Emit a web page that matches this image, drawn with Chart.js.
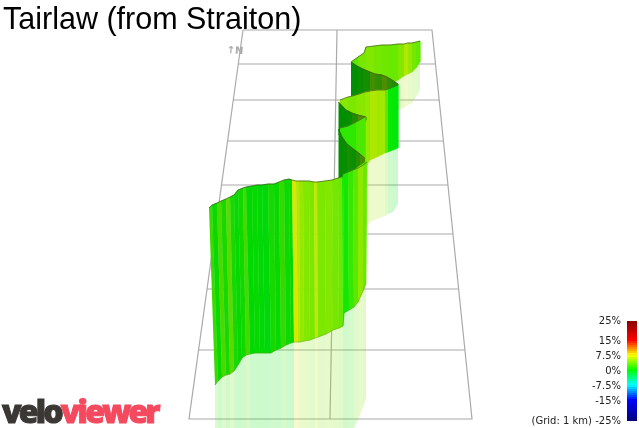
<!DOCTYPE html>
<html>
<head>
<meta charset="utf-8">
<title>Tairlaw (from Straiton)</title>
<script src="https://cdn.jsdelivr.net/npm/chart.js@4"></script>
<style>
  html, body { margin: 0; padding: 0; background: #fff; overflow: hidden; }
  canvas { display: block; }
</style>
</head>
<body>
<canvas id="myChart" width="639" height="428"></canvas>
<script>
// text
var titleText = "Tairlaw (from Straiton)";
var gridNote = "(Grid: 1 km) ";
var legendGrades = [25, 15, 7.5, 0, -7.5, -15, -25];

// colour bar
var barGrades = [-25,-24,-23,-22,-21,-20,-19,-18,-17,-16,-15,-14,-13,-12,-11,-10,-9,-8,-7,-6,-5,-4,-3,-2,-1,0,1,2,3,4,5,6,7,8,9,10,11,12,13,14,15,16,17,18,19,20,21,22,23,24,25];
var stopGrades = [-25, -15, -7.5, 0, 7.5, 15, 25];
var stopColours = [[0,0,128],[0,0,255],[0,255,255],[0,255,0],[255,255,0],[255,0,0],[128,0,0]];

// floor grid
var gridRows = [64, 100, 141, 185, 234, 289, 350];
var gridRowsLeft = [238.3, 233.3, 227.6, 221.5, 214.7, 207, 198.6];
var gridRowsRight = [435.5, 439.2, 443.4, 448, 453, 458.6, 465];
var gridOutlineX = [243, 432, 472, 189, 243];
var gridOutlineY = [30, 30, 419, 419, 30];
var gridMiddleX = [337, 330];
var gridMiddleY = [30, 419];

// main (nearest) panel
var mainTopX = [209,212,217,221,226,230,234,238,243,246,252,257,262,268,274,279,284,289,292,296,299,303,309,314,317,325,332,338,342,343,348,353,358,363,367];
var mainTopY = [208,205,203,201,199,197,195,190,188,187,186,185,185,184,184,182,180,179,180,181,181,181,181,182,182,181,180,178,177,174,172,170,168,165,162];
var mainBotX = [215,218,222,226,230,234,238,242,246,250,255,260,265,271,276,281,286,291,294,298,300,304,310,315,318,326,333,339,343,344,349,354,358,363,366];
var mainBotY = [385,381,377,375,374,371,365,358,355,354,353,353,353,353,350,348,345,343,342,342,342,341,340,338,337,334,330,328,326,313,310,307,302,291,283];
var mainGrade = [2,0.3,2.6,0.8,3.2,0.8,0.2,0.6,2.4,0,0.2,-0.2,-0.3,0.8,0.2,1.8,0.4,0.2,7,5.8,4.8,4.2,4,6.2,4,4.2,3.8,3.4,0.6,0.6,1.8,3,4.6,3.4];
var mainShadowY = [440,440,440,440,440,440,440,440,440,440,440,440,440,440,440,440,440,440,440,440,440,440,440,440,440,440,440,440,440,440,440,428,420,407,398];
var mainBend = 18;   // from this stripe on the panel faces the light more

// far panel at the top of the picture
var farTopX = [351,358,364,366,374,382,390,398,404,408,412,416,420];
var farTopY = [62,57,53,47,46,45,45,44,44,43,43,42,41];
var farBotX = [351,358,364,366,374,382,390,398,404,408,412,416,420];
var farBotY = [85,85,85,85,85,85,85,80,76,74,72,68,62];
var farGrade = [3,3.8,3.8,4.2,3.8,3.6,3.4,4.2,5.8,4.8,3.8,3.2];
var farShadowY = [85,85,85,85,85,85,85,110,108,105,103,97,90];

// dark back of the ribbon under the far panel
var backTopX = [351,357,363,370,375,382,387,392,398];
var backTopY = [62,66,69,72,74,75,77,80,84];
var backBotY = [97,96,95,94,94,92,91,90,85];
var backGrade = [0,0.5,1,3.5,2.5,4,2.5,1.5];

// middle panel
var midTopX = [340,348,356,365,370,377,385,388,393,398];
var midTopY = [100,97,95,92,91,90,90,89,87,85];
var midBotY = [170,170,170,168,160,157,153,152,150,148];
var midGrade = [4.4,4,4.4,4.8,5.6,5.2,3,0.3,-0.3];
var midShadowY = [170,170,170,230,222,219,216,214,212,204];

// small folds between the middle and the main panel
var foldATopX = [338.5,346,352,358,366];
var foldATopY = [102,110,113,115,117];
var foldABotY = [135,135,135,135,120];
var foldAGrade = [0,0.3,1.5,4.5];

var foldBTopX = [340,348,356,365];
var foldBTopY = [128,126,122,117];
var foldBBotY = [150,160,165,165];
var foldBGrade = [1.5,1.5,2.5];

var foldCTopX = [338.5,342,347,352,356,360,364.5];
var foldCTopY = [129,137,144,148,151,154,158];
var foldCBotY = [178,177,174,171,168,165,162];
var foldCGrade = [0,0.3,1,0.5,2,3.5];

function gradeColour(g, shade, alpha)
{
  var i = 0;
  while(i < stopGrades.length - 2 && g > stopGrades[i + 1])
  {
    i++;
  }
  var t = (g - stopGrades[i]) / (stopGrades[i + 1] - stopGrades[i]);
  var a = stopColours[i], b = stopColours[i + 1];
  var r = Math.round((a[0] + (b[0] - a[0]) * t) * shade);
  var gr = Math.round((a[1] + (b[1] - a[1]) * t) * shade);
  var bl = Math.round((a[2] + (b[2] - a[2]) * t) * shade);
  return "rgba(" + r + "," + gr + "," + bl + "," + alpha + ")";
}

var datasets = [];   // filled in paint order, reversed at the end

function addStripes(topX, topY, botX, botY, grade, shade, alpha, from, to)
{
  var first = from || 0;
  var last = to === undefined ? grade.length : to;
  for(var i = first; i < last; i++)
  {
    var colour = gradeColour(grade[i], shade, alpha);
    datasets.push({
      data: [
        {x: topX[i], y: topY[i]},
        {x: topX[i + 1], y: topY[i + 1]},
        {x: botX[i + 1], y: botY[i + 1]},
        {x: botX[i], y: botY[i]}
      ],
      fill: "shape",
      backgroundColor: colour,
      borderColor: alpha < 1 ? "rgba(0,0,0,0)" : colour,
      borderWidth: alpha < 1 ? 0 : 0.6,
      pointRadius: 0,
      tension: 0
    });
  }
}

function addLine(xs, ys, colour, width)
{
  var pts = [];
  for(var i = 0; i < xs.length; i++)
  {
    pts.push({x: xs[i], y: ys[i]});
  }
  datasets.push({data: pts, borderColor: colour, borderWidth: width, pointRadius: 0, fill: false, tension: 0});
}

// grid first, everything else covers it
var gridColour = "#aaaaaa";
for(var r = 0; r < gridRows.length; r++)
{
  addLine([gridRowsLeft[r], gridRowsRight[r]], [gridRows[r], gridRows[r]], gridColour, 1.2);
}
addLine(gridOutlineX, gridOutlineY, gridColour, 1.2);
addLine(gridMiddleX, gridMiddleY, gridColour, 1.2);

var edgeColour = "rgba(70,75,45,0.65)";
var lowEdgeColour = "rgba(90,150,30,0.5)";
var frontShade = 0.91, leftShade = 0.85, backShade = 0.56, shadowAlpha = 0.2;

// pale curtains below the ribbon
addStripes(farBotX, farBotY, farBotX, farShadowY, farGrade, frontShade, shadowAlpha);
addStripes(midTopX, midBotY, midTopX, midShadowY, midGrade, frontShade, shadowAlpha);
addStripes(mainBotX, mainBotY, mainBotX, mainShadowY, mainGrade, frontShade, shadowAlpha);

// ribbon, far to near
addStripes(farTopX, farTopY, farBotX, farBotY, farGrade, frontShade, 1);
addLine(farTopX, farTopY, edgeColour, 1);
addStripes(backTopX, backTopY, backTopX, backBotY, backGrade, backShade, 1);
addLine(backTopX, backTopY, edgeColour, 1);
addStripes(midTopX, midTopY, midTopX, midBotY, midGrade, frontShade, 1);
addLine(midTopX, midTopY, edgeColour, 1);
addStripes(foldATopX, foldATopY, foldATopX, foldABotY, foldAGrade, backShade, 1);
addLine(foldATopX, foldATopY, edgeColour, 1);
addStripes(foldBTopX, foldBTopY, foldBTopX, foldBBotY, foldBGrade, frontShade, 1);
addLine(foldBTopX, foldBTopY, edgeColour, 1);
addStripes(foldCTopX, foldCTopY, foldCTopX, foldCBotY, foldCGrade, backShade, 1);
addLine(foldCTopX, foldCTopY, edgeColour, 1);
addStripes(mainTopX, mainTopY, mainBotX, mainBotY, mainGrade, leftShade, 1, 0, mainBend);
addStripes(mainTopX, mainTopY, mainBotX, mainBotY, mainGrade, frontShade, 1, mainBend);
addLine(mainTopX, mainTopY, edgeColour, 1);
addLine(mainBotX, mainBotY, lowEdgeColour, 0.8);

// colour bar on its own grade scale
datasets.push({
  data: barGrades.map(function(g) { return {x: 632, y: g}; }),
  yAxisID: "yGrade",
  borderWidth: 10,
  borderCapStyle: "butt",
  pointRadius: 0,
  fill: false,
  tension: 0,
  segment: {
    borderColor: function(c) { return gradeColour(c.p0.parsed.y, 1, 1); }
  }
});

// first dataset is painted last by Chart.js
datasets.reverse();

var textPlugin = {
  id: "texts",
  afterDraw: function(chart)
  {
    var ctx = chart.ctx;
    var yGrade = chart.scales.yGrade;
    ctx.save();

    ctx.fillStyle = "#000";
    ctx.textBaseline = "alphabetic";
    ctx.textAlign = "left";
    ctx.font = '30.5px "Liberation Sans"';
    ctx.fillText(titleText, 3, 29);

    ctx.fillStyle = "#222";
    ctx.font = '10px "DejaVu Sans"';
    ctx.textAlign = "right";
    ctx.textBaseline = "middle";
    for(var i = 0; i < legendGrades.length; i++)
    {
      var label = legendGrades[i] + "%";
      if(i == legendGrades.length - 1)
      {
        label = gridNote + label;
      }
      ctx.fillText(label, 621, yGrade.getPixelForValue(legendGrades[i]));
    }

    // north marker
    ctx.save();
    ctx.translate(235, 51);
    ctx.rotate(0.08);
    ctx.fillStyle = "#aaa";
    ctx.font = 'bold 10px "DejaVu Sans"';
    ctx.textAlign = "center";
    ctx.fillText("\u2191N", 0, 0);
    ctx.restore();

    // logo
    ctx.textAlign = "left";
    ctx.textBaseline = "alphabetic";
    ctx.font = '800 32px "Open Sans"';
    ctx.letterSpacing = "-2.8px";
    ctx.lineWidth = 1;
    ctx.fillStyle = ctx.strokeStyle = "#3b3735";
    ctx.fillText("velo", 2, 423);
    ctx.strokeText("velo", 2, 423);
    var w = ctx.measureText("velo").width;
    ctx.fillStyle = ctx.strokeStyle = "#f4495e";
    ctx.fillText("viewer", 2 + w, 423);
    ctx.strokeText("viewer", 2 + w, 423);

    ctx.restore();
  }
};

var ctx = document.getElementById("myChart").getContext("2d");
var myChart = new Chart(ctx, {
  type: "line",
  data: { datasets: datasets },
  plugins: [textPlugin],
  options: {
    responsive: false,
    animation: false,
    layout: { padding: 0 },
    plugins: {
      legend: { display: false },
      title: { display: false },
      tooltip: { enabled: false }
    },
    events: [],
    scales: {
      x: { type: "linear", min: 0, max: 639, display: false },
      y: { type: "linear", min: 0, max: 428, reverse: true, display: false },
      yGrade: { type: "linear", min: -28.5, max: 185.5, display: false }
    }
  }
});
</script>
</body>
</html>
